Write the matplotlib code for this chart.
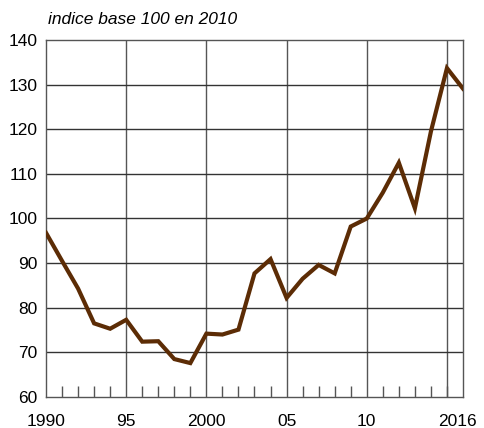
import matplotlib
matplotlib.use("Agg")
import matplotlib.pyplot as plt
from matplotlib.transforms import ScaledTranslation

years = list(range(1990, 2017))
values = [96.8, 90.5, 84.3, 76.5, 75.3, 77.3, 72.4, 72.5, 68.5, 67.6,
          74.2, 74.0, 75.1, 87.7, 90.9, 82.2, 86.5, 89.6, 87.7, 98.2,
          100.0, 105.8, 112.5, 102.3, 119.5, 133.7, 129.1]
xtick_pos = [1990, 1995, 2000, 2005, 2010, 2016]
xtick_labels = ["1990", "95", "2000", "05", "10", "2016"]
ytick_pos = [60, 70, 80, 90, 100, 110, 120, 130, 140]
title = "indice base 100 en 2010"

plt.rcParams['font.family'] = ['Liberation Sans', 'DejaVu Sans']

fig = plt.figure(figsize=(4.85, 4.28), dpi=100)
ax = fig.add_axes([46/485, 1-397/428, (463-46)/485, (397-40)/428])

# grid
for x in [1995, 2000, 2005, 2010, 2015]:
    ax.axvline(x, color='#555555', lw=1.0, zorder=1)
for y in ytick_pos[1:-1]:
    ax.axhline(y, color='#333333', lw=1.0, zorder=1)

ax.plot(years, values, color='#5c2c05', lw=3.0, zorder=3, solid_joinstyle='miter')

ax.set_xlim(1990, 2016)
ax.set_ylim(60, 140)

ax.set_yticks(ytick_pos)
ax.set_yticklabels([str(v) for v in ytick_pos], fontsize=12.5)
ax.tick_params(axis='y', length=0, pad=6)

ax.set_xticks(xtick_pos)
ax.set_xticklabels(xtick_labels, fontsize=12.5)
ax.set_xticks(years, minor=True)
ax.tick_params(axis='x', which='major', length=0, pad=12)
ax.tick_params(axis='x', which='minor', direction='in', length=8, width=1, color='#555555')
lbls = ax.get_xticklabels()
lbls[-1].set_transform(lbls[-1].get_transform() + ScaledTranslation(-6/100, 0, fig.dpi_scale_trans))

for s in ax.spines.values():
    s.set_color('#555555')
    s.set_linewidth(1.0)

fig.text(46/485 + 0.005, 1-20/428, title, fontsize=12.5, style='italic', ha='left', va='center')

fig.savefig('out.png', dpi=100)
